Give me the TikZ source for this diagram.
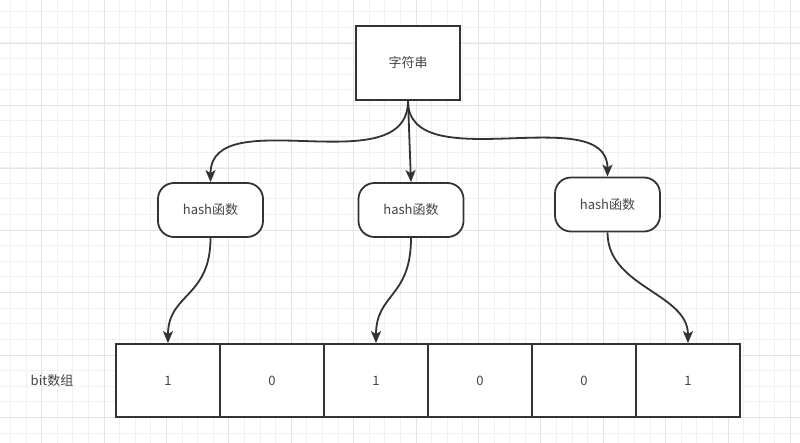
\documentclass[tikz,border=0pt]{standalone}
\usepackage{fontspec}
\setmainfont{Noto Sans CJK SC}
\usetikzlibrary{arrows.meta}

\definecolor{linegray}{HTML}{333333}
\definecolor{textgray}{HTML}{444444}
\definecolor{gridminor}{HTML}{F1F1F1}
\definecolor{gridmajor}{HTML}{E4E4E4}

\tikzset{
	boxbase/.style={draw=linegray, line width=1.8pt, fill=white, inner sep=0pt, text=textgray, font=\fontsize{13}{15}\selectfont},
	strbox/.style={boxbase, minimum width=104pt, minimum height=74pt},
	hashbox/.style={boxbase, rounded corners=16pt, minimum width=105pt, minimum height=54pt},
	bitcell/.style={boxbase, minimum width=104pt, minimum height=73pt},
	link/.style={draw=linegray, line width=1.8pt, -{Stealth[length=12pt,width=10pt,inset=3pt]}}
}

\begin{document}
\begin{tikzpicture}[x=1pt,y=-1pt]
	\useasboundingbox (0,0) rectangle (800,443);
	\fill[white] (0,0) rectangle (800,443);
	% background grid
	\foreach \i in {0,...,50}
		\draw[gridminor, line width=0.8pt] (10.4+15.6*\i,0) -- (10.4+15.6*\i,443);
	\foreach \j in {0,...,27}
		\draw[gridminor, line width=0.8pt] (0,11.7+15.6*\j) -- (800,11.7+15.6*\j);
	\foreach \i in {0,...,12}
		\draw[gridmajor, line width=0.8pt] (41.6+62.4*\i,0) -- (41.6+62.4*\i,443);
	\foreach \j in {0,...,6}
		\draw[gridmajor, line width=0.8pt] (0,43.3+62.4*\j) -- (800,43.3+62.4*\j);

	\node[strbox] (str) at (408,63) {字符串};

	\node[hashbox] (h1) at (210.5,210) {hash函数};
	\node[hashbox] (h2) at (411,210) {hash函数};
	\node[hashbox] (h3) at (607.5,204.5) {hash函数};

	% bit array
	\foreach \v [count=\k] in {1,0,1,0,0,1}
		\node[bitcell] (c\k) at (64+104*\k,380.5) {\v};
	\node[text=textgray, font=\fontsize{13}{15}\selectfont] (label) at (52,381) {bit数组};

	\draw[link] (str.south) .. controls +(0,84) and +(0,-82) .. (h1.north);
	\draw[link] (str.south) -- (h2.north);
	\draw[link] (str.south) .. controls +(0,79) and +(0,-77) .. (h3.north);

	\draw[link] (h1.south) .. controls +(0,60) and +(0,-50) .. (c1.north);
	\draw[link] (h2.south) .. controls +(0,60) and +(0,-50) .. (c3.north);
	\draw[link] (h3.south) .. controls +(0,55) and +(0,-50) .. (c6.north);
\end{tikzpicture}
\end{document}
